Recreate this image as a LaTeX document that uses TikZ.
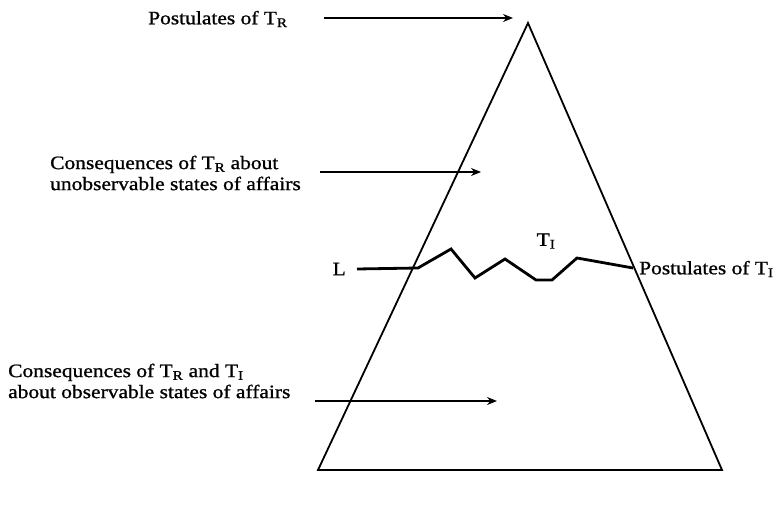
\documentclass[tikz,border=0pt]{standalone}
\usepackage{fontspec}
\setmainfont[FakeStretch=1.13,FakeBold=1]{Liberation Serif}
\usetikzlibrary{arrows.meta}
\begin{document}
\begin{tikzpicture}[x=1pt,y=-1pt,
  lbl/.style={font=\fontsize{19}{21}\selectfont, inner sep=0pt},
  arr/.style={line width=1.4pt, -{Stealth[length=10pt,width=8pt]}},
  tri/.style={line width=1.8pt, line join=miter},
  zig/.style={line width=2.8pt, line join=miter}]
\useasboundingbox (0,0) rectangle (784,505);
% triangle
\coordinate (A) at (528,23);
\coordinate (B) at (318,470);
\coordinate (C) at (722,470);
\draw[tri] (A) -- (B) -- (C) -- cycle;
% zigzag line L
\coordinate (z0) at (357,269);
\coordinate (z1) at (418,268);
\coordinate (z2) at (451,249);
\coordinate (z3) at (475,278);
\coordinate (z4) at (505,259);
\coordinate (z5) at (536,280);
\coordinate (z6) at (552,280);
\coordinate (z7) at (577,258);
\coordinate (z8) at (633,268);
\draw[zig] (z0) -- (z1) -- (z2) -- (z3) -- (z4) -- (z5) -- (z6) -- (z7) -- (z8);
% labels
\node[lbl, anchor=east] (L) at (346,269) {L};
\node[lbl] (TI) at (546,241) {T\textsubscript{I}};
\node[lbl, anchor=west] (PTI) at (639,269) {Postulates of T\textsubscript{I}};
\node[lbl, anchor=west] (PTR) at (148,19) {Postulates of T\textsubscript{R}};
\node[lbl, anchor=west, align=left] (CTR) at (50,173) {Consequences of T\textsubscript{R} about\\unobservable states of affairs};
\node[lbl, anchor=west, align=left] (CTI) at (8,381) {Consequences of T\textsubscript{R} and T\textsubscript{I}\\about observable states of affairs};
% arrows
\coordinate (a1s) at (324,18); \coordinate (a1e) at (513,18);
\coordinate (a2s) at (320,172); \coordinate (a2e) at (481,172);
\coordinate (a3s) at (315,401); \coordinate (a3e) at (497,401);
\draw[arr] (a1s) -- (a1e);
\draw[arr] (a2s) -- (a2e);
\draw[arr] (a3s) -- (a3e);
\end{tikzpicture}
\end{document}
